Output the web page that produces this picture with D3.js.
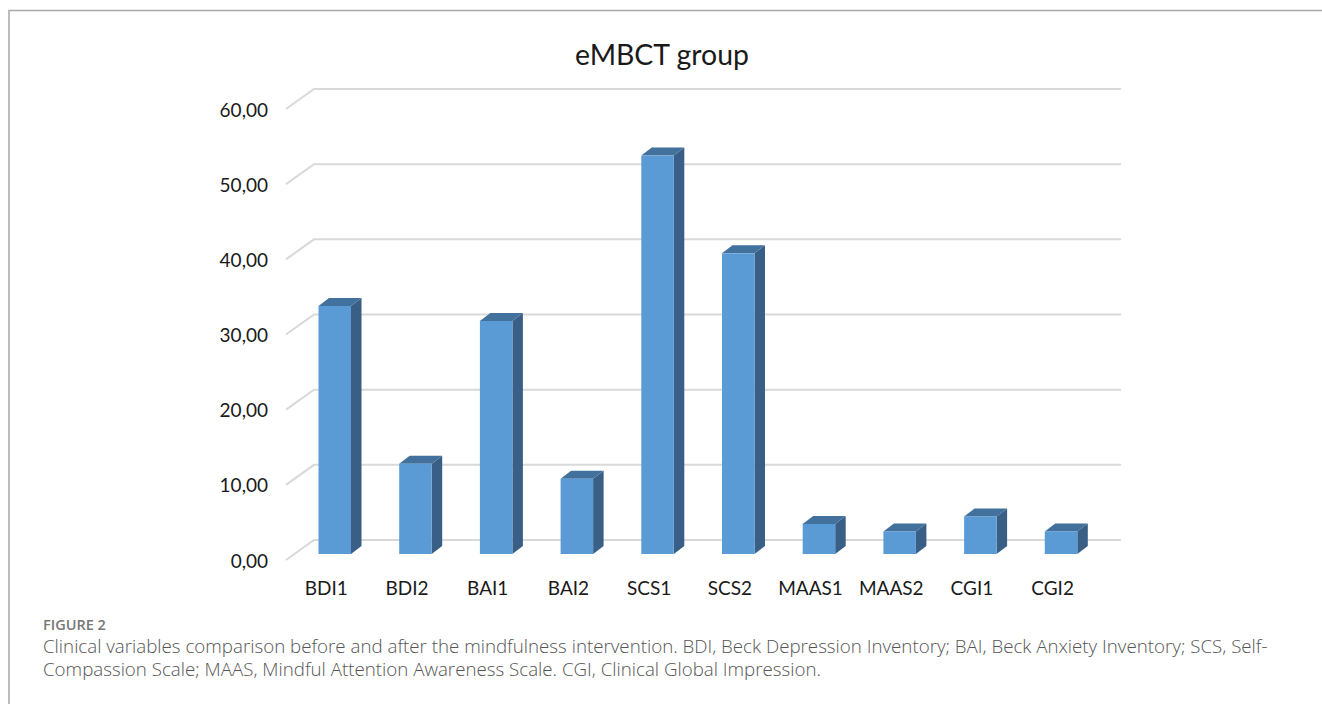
<!DOCTYPE html>
<html>
<head>
<meta charset="utf-8">
<script src="https://cdn.jsdelivr.net/npm/d3@7"></script>
<style>
  html, body { margin: 0; padding: 0; background: #fff; }
  svg { display: block; }
</style>
</head>
<body>
<svg id="chart" width="1322" height="704"></svg>
<script>
// ---- data ----
const categories = ["BDI1", "BDI2", "BAI1", "BAI2", "SCS1", "SCS2", "MAAS1", "MAAS2", "CGI1", "CGI2"];
const values = [33, 12, 31, 10, 53, 40, 4, 3, 5, 3];
const yTicks = [0, 10, 20, 30, 40, 50, 60];
const title = "eMBCT group";
const figureLabel = "FIGURE 2";
const captionLines = [
  "Clinical variables comparison before and after the mindfulness intervention. BDI, Beck Depression Inventory; BAI, Beck Anxiety Inventory; SCS, Self-",
  "Compassion Scale; MAAS, Mindful Attention Awareness Scale. CGI, Clinical Global Impression."
];

// ---- layout ----
const svg = d3.select("#chart");
const W = 1322, H = 704;
svg.append("rect").attr("width", W).attr("height", H).attr("fill", "#fff");

// frame
svg.append("path")
  .attr("d", `M9,${H} V10.5 H${W}`)
  .attr("fill", "none").attr("stroke", "#a8a8a8").attr("stroke-width", 1.5);

const front = { x0: 286, x1: 1093, y0: 560, y1: 109 };
const depth = { dx: 28, dy: -20 };   // full floor depth (oblique projection)
const barFront = 0.3;                 // depth fraction of bar front face
const barDx = 10.5, barDy = -8;       // bar depth offset

const x = d3.scaleBand().domain(categories).range([front.x0, front.x1]).padding(0);
const y = d3.scaleLinear().domain([0, 60]).range([front.y0, front.y1]);

const locale = d3.formatLocale({ decimal: ",", thousands: ".", grouping: [3], currency: ["", "€"] });
const fmt = locale.format(".2f");

// gridlines: side wall + back wall
const grid = svg.append("g");
yTicks.forEach(t => {
  const fy = y(t);
  grid.append("path")
    .attr("d", `M${front.x0},${fy} L${front.x0 + depth.dx},${fy + depth.dy} L${front.x1 + depth.dx},${fy + depth.dy}`)
    .attr("fill", "none").attr("stroke", "#d9d9d9").attr("stroke-width", 2);
});

// y tick labels
svg.append("g").selectAll("text").data(yTicks).join("text")
  .attr("x", 268).attr("y", d => y(d) + 7.5)
  .attr("text-anchor", "end")
  .attr("font-family", "Lato, 'Open Sans', sans-serif")
  .attr("font-size", 19)
  .attr("fill", "#1a1a1a")
  .text(d => fmt(d));

// bars
const bw = 32.5;
const offX = depth.dx * barFront, offY = depth.dy * barFront;
const bars = svg.append("g").selectAll("g").data(categories.map((c, i) => ({ c, v: values[i] }))).join("g");
bars.each(function(d) {
  const g = d3.select(this);
  const cx = x(d.c) + x.bandwidth() / 2 + offX;
  const xl = cx - bw / 2, xr = cx + bw / 2;
  const yb = y(0) + offY, yt = y(d.v) + offY;
  g.append("path")
    .attr("d", `M${xr},${yt} L${xr + barDx},${yt + barDy} L${xr + barDx},${yb + barDy} L${xr},${yb} Z`)
    .attr("fill", "#395f86");
  g.append("path")
    .attr("d", `M${xl},${yt} L${xl + barDx},${yt + barDy} L${xr + barDx},${yt + barDy} L${xr},${yt} Z`)
    .attr("fill", "#41719c");
  g.append("rect")
    .attr("x", xl).attr("y", yt).attr("width", bw).attr("height", yb - yt)
    .attr("fill", "#5b9bd5");
});

// category labels
svg.append("g").selectAll("text").data(categories).join("text")
  .attr("x", d => x(d) + x.bandwidth() / 2)
  .attr("y", 595)
  .attr("text-anchor", "middle")
  .attr("font-family", "Lato, 'Open Sans', sans-serif")
  .attr("font-size", 19)
  .attr("fill", "#1a1a1a")
  .text(d => d);

// fit helper
function fit(sel, target) {
  const n = sel.node();
  const fs = parseFloat(sel.attr("font-size"));
  const w = n.getComputedTextLength();
  if (w > 0) sel.attr("font-size", (fs * target / w).toFixed(2));
  return parseFloat(sel.attr("font-size"));
}

// title
const tt = svg.append("text")
  .attr("x", 662).attr("y", 65)
  .attr("text-anchor", "middle")
  .attr("font-family", "Lato, 'Open Sans', sans-serif")
  .attr("font-size", 28)
  .attr("fill", "#1a1a1a")
  .text(title);
fit(tt, 174);

// caption
const fl = svg.append("text")
  .attr("x", 43).attr("y", 630)
  .attr("font-family", "'Open Sans', sans-serif")
  .attr("font-weight", 600)
  .attr("font-size", 13)
  .attr("fill", "#777")
  .text(figureLabel);
fit(fl, 63);

let capSize = 17;
captionLines.forEach((line, i) => {
  const t = svg.append("text")
    .attr("x", 43).attr("y", 653 + i * 23)
    .attr("font-family", "'Open Sans', sans-serif")
    .attr("font-weight", 300)
    .attr("font-size", capSize)
    .attr("fill", "#555")
    .text(line);
  if (i === 0) capSize = fit(t, 1225);
});
</script>
</body>
</html>
